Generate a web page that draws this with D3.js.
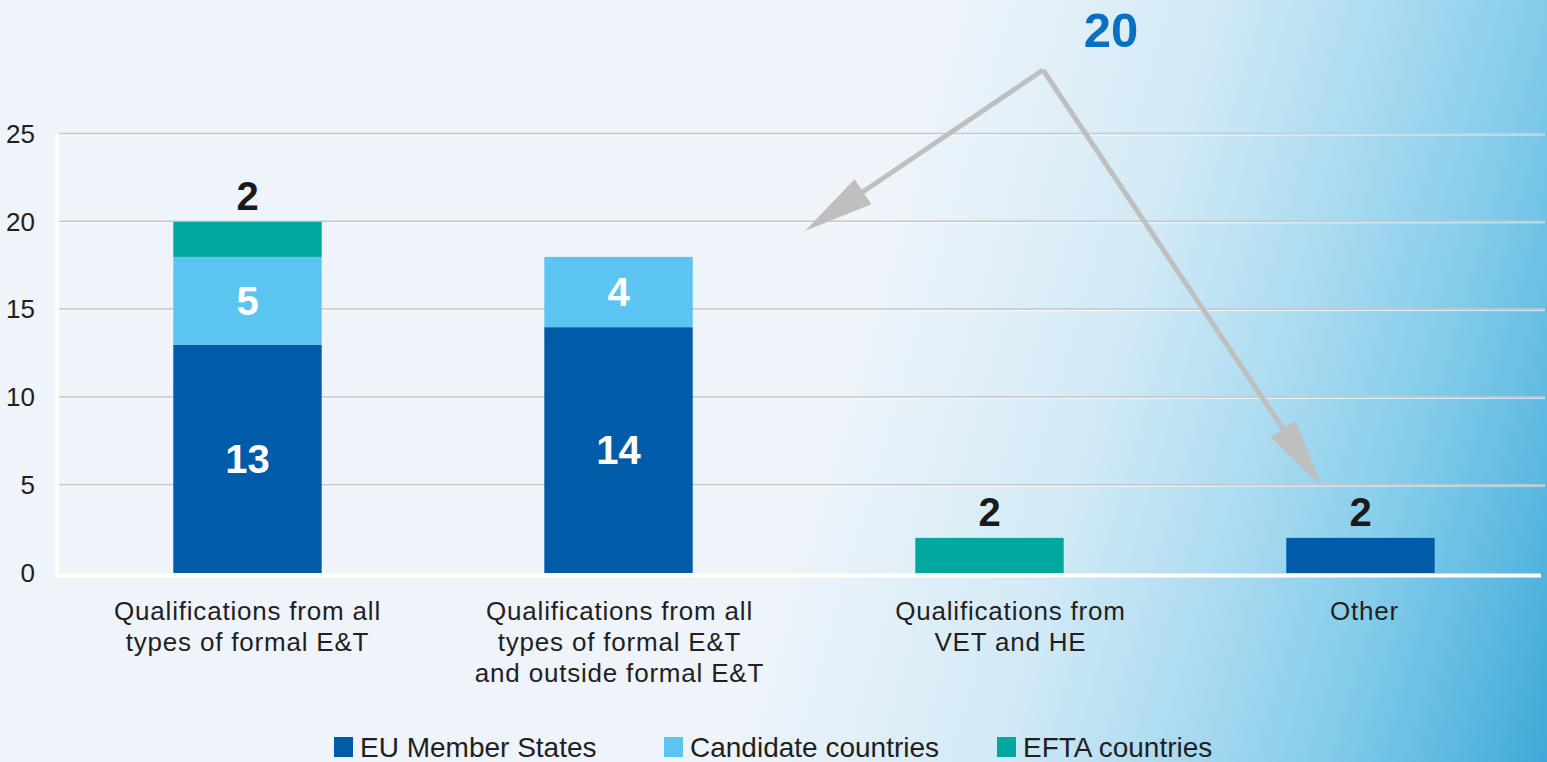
<!DOCTYPE html>
<meta charset="utf-8">
<script src="https://d3js.org/d3.v7.min.js"></script>
<style>
  body { margin: 0; overflow: hidden; }
  svg { display: block; font-family: "Liberation Sans", Arial, sans-serif; }
</style>
<div id="my_dataviz"></div>
<script>

// data
var categories = [
  ["Qualifications from all", "types of formal E&T"],
  ["Qualifications from all", "types of formal E&T", "and outside formal E&T"],
  ["Qualifications from", "VET and HE"],
  ["Other"]
];
var seriesNames = ["EU Member States", "Candidate countries", "EFTA countries"];
var euValues = [13, 14, 0, 2];
var candidateValues = [5, 4, 0, 0];
var eftaValues = [2, 0, 2, 0];
var yTicks = [0, 5, 10, 15, 20, 25];
var calloutValue = 20;

var colors = ["#005ca9", "#5bc4f1", "#00a89d"];

var width = 1547, height = 762;

var svg = d3.select("#my_dataviz")
  .append("svg")
    .attr("width", width)
    .attr("height", height);

// background gradient
var defs = svg.append("defs");
var grad = defs.append("linearGradient")
    .attr("id", "bg")
    .attr("gradientUnits", "userSpaceOnUse")
    .attr("x1", 860).attr("y1", 300)
    .attr("x2", 1617).attr("y2", 520);
[[0, "#eef4fa"], [0.32, "#d3eaf6"], [0.545, "#aadbf0"], [0.727, "#84ccea"], [0.909, "#56b6df"], [1, "#40a8d8"]]
  .forEach(function(s) { grad.append("stop").attr("offset", s[0]).attr("stop-color", s[1]); });

svg.append("rect").attr("width", width).attr("height", height).attr("fill", "#edf1f7");
svg.append("rect").attr("width", width).attr("height", height).attr("fill", "url(#bg)");

// build table for stacking
var data = categories.map(function(c, i) {
  return { idx: i, eu: euValues[i], cand: candidateValues[i], efta: eftaValues[i] };
});
var keys = ["eu", "cand", "efta"];
var stacked = d3.stack().keys(keys)(data);

var x = d3.scaleBand()
    .domain(d3.range(categories.length))
    .range([62, 1546])
    .paddingInner(0.6)
    .paddingOuter(0.3);

var y = d3.scaleLinear()
    .domain([0, 25])
    .range([573, 134]);

// gridlines
var grid = svg.append("g");
grid.selectAll("line.g1")
  .data(yTicks.filter(function(d) { return d > 0; }))
  .enter().append("line")
    .attr("x1", 59).attr("x2", 1545)
    .attr("y1", function(d) { return y(d) - 0.5; })
    .attr("y2", function(d) { return y(d) - 0.5; })
    .attr("stroke", "#c4c8cd")
    .attr("stroke-width", 1.5);
grid.selectAll("line.g2")
  .data(yTicks.filter(function(d) { return d > 0; }))
  .enter().append("line")
    .attr("x1", 59).attr("x2", 1545)
    .attr("y1", function(d) { return y(d) + 1; })
    .attr("y2", function(d) { return y(d) + 1; })
    .attr("stroke", "#ffffff")
    .attr("stroke-opacity", 0.7)
    .attr("stroke-width", 1);

// y axis labels
var yAxis = svg.append("g")
    .attr("transform", "translate(35,0)")
    .call(d3.axisLeft(y).tickValues(yTicks).tickSize(0).tickPadding(0));
yAxis.select(".domain").remove();
yAxis.selectAll("text")
    .attr("font-family", "Liberation Sans, Arial, sans-serif")
    .attr("font-size", 26)
    .attr("fill", "#231f20")
    .attr("dy", "0.32em");

// bars
svg.append("g")
  .selectAll("g")
  .data(stacked)
  .enter().append("g")
    .attr("fill", function(d, i) { return colors[i]; })
  .selectAll("rect")
  .data(function(d) { return d; })
  .enter().append("rect")
    .attr("x", function(d) { return x(d.data.idx); })
    .attr("y", function(d) { return y(d[1]); })
    .attr("height", function(d) { return y(d[0]) - y(d[1]); })
    .attr("width", x.bandwidth());

// white frame lines (left and baseline)
svg.append("line")
    .attr("x1", 57).attr("x2", 57).attr("y1", 134).attr("y2", 578)
    .attr("stroke", "#ffffff").attr("stroke-width", 3.5);
svg.append("line")
    .attr("x1", 55).attr("x2", 1541).attr("y1", 575.5).attr("y2", 575.5)
    .attr("stroke", "#ffffff").attr("stroke-width", 4);

// value labels
var labels = [];
stacked.forEach(function(layer) {
  layer.forEach(function(d) {
    var v = d[1] - d[0];
    if (v <= 0) return;
    var h = y(d[0]) - y(d[1]);
    labels.push({ idx: d.data.idx, v: v, lo: d[0], hi: d[1], inside: h > 50 });
  });
});
svg.append("g")
  .selectAll("text")
  .data(labels)
  .enter().append("text")
    .attr("x", function(d) { return x(d.idx) + x.bandwidth() / 2; })
    .attr("y", function(d) {
      return d.inside ? (y(d.lo) + y(d.hi)) / 2 : y(d.hi) - 12;
    })
    .attr("dy", function(d) { return d.inside ? "0.36em" : "0"; })
    .attr("text-anchor", "middle")
    .attr("font-size", 40)
    .attr("font-weight", "bold")
    .attr("fill", function(d) { return d.inside ? "#ffffff" : "#1a1a1a"; })
    .text(function(d) { return d.v; });

// category labels (the last two sit a little right of their bars in the original)
var labelShift = [0, 1, 21, 4];
var cat = svg.append("g")
  .selectAll("text")
  .data(categories)
  .enter().append("text")
    .attr("x", function(d, i) { return x(i) + x.bandwidth() / 2 + labelShift[i]; })
    .attr("y", 620)
    .attr("text-anchor", "middle")
    .attr("font-size", 26)
    .attr("letter-spacing", 0.8)
    .attr("fill", "#231f20");
cat.selectAll("tspan")
  .data(function(d) { return d; })
  .enter().append("tspan")
    .attr("x", function() { return d3.select(this.parentNode).attr("x"); })
    .attr("dy", function(d, i) { return i === 0 ? 0 : 31; })
    .text(function(d) { return d; });

// callout with arrows
var apex = [1043, 70];
var tips = [[805, 231], [1322, 487]];
var headLen = 70, headHalf = 15;
var arrows = svg.append("g");
tips.forEach(function(t) {
  var dx = t[0] - apex[0], dy = t[1] - apex[1];
  var len = Math.sqrt(dx * dx + dy * dy);
  var ux = dx / len, uy = dy / len;
  var bx = t[0] - ux * headLen, by = t[1] - uy * headLen;
  arrows.append("line")
      .attr("x1", apex[0]).attr("y1", apex[1])
      .attr("x2", bx + ux * 4).attr("y2", by + uy * 4)
      .attr("stroke", "#bfbfbf")
      .attr("stroke-width", 5);
  arrows.append("path")
      .attr("d", "M" + t[0] + "," + t[1] +
                 "L" + (bx - uy * headHalf) + "," + (by + ux * headHalf) +
                 "L" + (bx + uy * headHalf) + "," + (by - ux * headHalf) + "Z")
      .attr("fill", "#bfbfbf");
});

svg.append("text")
    .attr("x", 1111).attr("y", 47)
    .attr("text-anchor", "middle")
    .attr("font-size", 49)
    .attr("font-weight", "bold")
    .attr("fill", "#0a6fc1")
    .text(calloutValue);

// legend
var legendX = [334, 664, 997];
var legend = svg.append("g")
  .selectAll("g")
  .data(seriesNames)
  .enter().append("g")
    .attr("transform", function(d, i) { return "translate(" + legendX[i] + ",0)"; });
legend.append("rect")
    .attr("x", 0).attr("y", 737)
    .attr("width", 19).attr("height", 20)
    .attr("fill", function(d, i) { return colors[i]; });
legend.append("text")
    .attr("x", 26).attr("y", 757)
    .attr("font-size", 28)
    .attr("fill", "#231f20")
    .text(function(d) { return d; });

</script>
